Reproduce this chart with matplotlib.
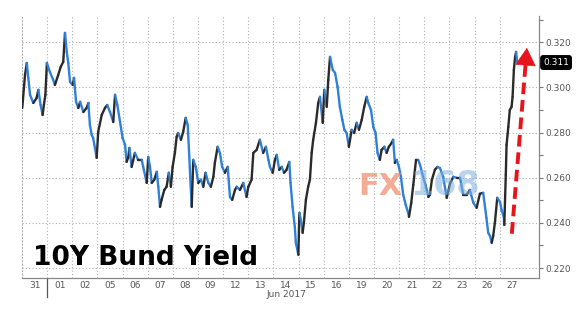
import numpy as np
import matplotlib
matplotlib.use('Agg')
import matplotlib.pyplot as plt
import matplotlib.transforms as mtransforms
from matplotlib.collections import LineCollection
from matplotlib.ticker import MultipleLocator, FormatStrFormatter

# trading days (31 May .. 27 Jun 2017), one unit of x per session
day_labels = ['31', '01', '02', '05', '06', '07', '08', '09', '12', '13',
              '14', '15', '16', '19', '20', '21', '22', '23', '26', '27']

# intraday 10Y Bund yield, time in sessions since 31 May open
t = [0.01, 0.12, 0.19, 0.25, 0.32, 0.45, 0.58, 0.65, 0.74, 0.82, 0.87, 0.93, 0.99,
     1.11, 1.24, 1.31, 1.44, 1.54, 1.64, 1.71, 1.78, 1.84, 1.91,
     2.02, 2.07, 2.15, 2.24, 2.31, 2.44, 2.57, 2.64, 2.70, 2.77, 2.83, 2.90, 2.97,
     3.03, 3.17, 3.30, 3.39, 3.50, 3.63, 3.70, 3.79, 3.90,
     4.00, 4.10, 4.16, 4.23, 4.27, 4.36, 4.49, 4.62, 4.76, 4.82, 4.96,
     5.02, 5.09, 5.16, 5.26, 5.36, 5.42, 5.49, 5.55, 5.66, 5.75, 5.84, 5.92, 5.99,
     6.08, 6.15, 6.21, 6.32, 6.41, 6.51, 6.59, 6.64, 6.69, 6.75, 6.81, 6.91,
     7.01, 7.12, 7.21, 7.30, 7.41, 7.51, 7.61, 7.67, 7.78, 7.87, 7.96,
     8.07, 8.18, 8.27, 8.36, 8.47, 8.54, 8.67, 8.80, 8.93,
     9.00, 9.13, 9.20, 9.33, 9.46, 9.59, 9.70, 9.80, 9.86, 9.97,
     10.06, 10.13, 10.23, 10.33, 10.42, 10.52, 10.63, 10.68, 10.76, 10.85, 10.89, 10.99,
     11.03, 11.09, 11.16, 11.21, 11.29, 11.38, 11.45, 11.52, 11.58, 11.69, 11.78, 11.85, 11.96,
     12.02, 12.12, 12.18, 12.25, 12.36, 12.45, 12.55, 12.64, 12.74, 12.82, 12.91,
     13.00, 13.11, 13.21, 13.31, 13.40, 13.51, 13.61, 13.71, 13.77, 13.88, 13.97,
     14.06, 14.14, 14.23, 14.30, 14.41, 14.50, 14.59, 14.70, 14.76, 14.83, 14.90, 14.99,
     15.07, 15.16, 15.26, 15.36, 15.39, 15.48, 15.56, 15.67, 15.76, 15.83, 15.95,
     16.05, 16.16, 16.22, 16.30, 16.42, 16.52, 16.62, 16.75, 16.89,
     17.02, 17.15, 17.28, 17.42, 17.55, 17.68, 17.81, 17.95,
     18.08, 18.21, 18.34, 18.47, 18.54, 18.61, 18.68, 18.74, 18.81, 18.90,
     19.01, 19.07, 19.16, 19.18, 19.24, 19.27, 19.34, 19.40, 19.47, 19.51, 19.56, 19.61, 19.65, 19.69]

yld = [0.2909, 0.3055, 0.3108, 0.3042, 0.2967, 0.2931, 0.2953, 0.2989, 0.2922, 0.2878, 0.2922, 0.2967, 0.3108,
       0.3068, 0.3033, 0.3011, 0.3055, 0.3091, 0.3113, 0.3241, 0.3157, 0.3108, 0.3024,
       0.3011, 0.3042, 0.2936, 0.2909, 0.2936, 0.2891, 0.2909, 0.2931, 0.2834, 0.2790, 0.2776, 0.2732, 0.2688,
       0.2803, 0.2878, 0.2909, 0.2922, 0.2891, 0.2847, 0.2967, 0.2922, 0.2847,
       0.2776, 0.2745, 0.2670, 0.2692, 0.2732, 0.2648, 0.2710, 0.2679, 0.2679, 0.2648, 0.2577,
       0.2692, 0.2648, 0.2577, 0.2591, 0.2626, 0.2560, 0.2471, 0.2502, 0.2546, 0.2560, 0.2622, 0.2560, 0.2648,
       0.2710, 0.2781, 0.2798, 0.2768, 0.2803, 0.2865, 0.2834, 0.2723, 0.2604, 0.2471, 0.2679, 0.2648,
       0.2577, 0.2591, 0.2560, 0.2622, 0.2577, 0.2560, 0.2604, 0.2666, 0.2737, 0.2710, 0.2648,
       0.2622, 0.2648, 0.2515, 0.2502, 0.2546, 0.2560, 0.2546, 0.2577, 0.2515,
       0.2560, 0.2591, 0.2710, 0.2723, 0.2768, 0.2710, 0.2737, 0.2679, 0.2648, 0.2622,
       0.2679, 0.2701, 0.2635, 0.2648, 0.2622, 0.2635, 0.2670, 0.2577, 0.2471, 0.2382, 0.2312, 0.2259,
       0.2444, 0.2414, 0.2356, 0.2400, 0.2502, 0.2560, 0.2591, 0.2710, 0.2768, 0.2843, 0.2931, 0.2958, 0.2843,
       0.2989, 0.2914, 0.3033, 0.3135, 0.3077, 0.3064, 0.3002, 0.2914, 0.2856, 0.2812, 0.2798,
       0.2737, 0.2812, 0.2798, 0.2843, 0.2812, 0.2856, 0.2914, 0.2958, 0.2931, 0.2900, 0.2825,
       0.2798, 0.2710, 0.2679, 0.2723, 0.2737, 0.2710, 0.2737, 0.2754, 0.2768, 0.2666, 0.2679, 0.2648,
       0.2604, 0.2524, 0.2480, 0.2444, 0.2427, 0.2489, 0.2568, 0.2679, 0.2679, 0.2657, 0.2604,
       0.2568, 0.2515, 0.2524, 0.2591, 0.2635, 0.2648, 0.2643, 0.2604, 0.2511,
       0.2573, 0.2604, 0.2600, 0.2600, 0.2524, 0.2524, 0.2546, 0.2489,
       0.2467, 0.2529, 0.2533, 0.2422, 0.2356, 0.2343, 0.2312, 0.2343, 0.2405, 0.2511,
       0.2493, 0.2458, 0.2427, 0.2391, 0.2613, 0.2745, 0.2825, 0.2900, 0.2914, 0.2958, 0.3077, 0.3135, 0.3157, 0.3113]

last_value = 0.311
arrow_start = (19.48, 0.2352)
arrow_tip = (20.08, 0.3175)

fig = plt.figure(figsize=(5.82, 3.10), dpi=100)
ax = fig.add_axes([0.0378, 0.1032, 0.8883, 0.8452])

# up moves dark, down moves blue (like the terminal's tick colouring)
pts = np.column_stack([t, yld])
segs = np.stack([pts[:-1], pts[1:]], axis=1)
cols = np.where(np.diff(yld) >= 0, '#2a2a2a', '#2f80d8')
ax.add_collection(LineCollection(segs, colors=cols, linewidths=1.7,
                                 capstyle='round', joinstyle='round', zorder=3))

ax.set_xlim(0, 20.56)
ax.set_ylim(0.2156, 0.3316)

# right hand y axis
ax.yaxis.tick_right()
ax.set_yticks(np.arange(0.22, 0.3201, 0.02))
ax.yaxis.set_major_formatter(FormatStrFormatter('%.3f'))
ax.yaxis.set_minor_locator(MultipleLocator(0.01))
ax.tick_params(axis='y', which='both', direction='out', length=3, width=0.8,
               color='#777777', labelsize=6.5, labelcolor='#555555', pad=1.5)

# day labels centred in each session, grid on session boundaries
ax.set_xticks(np.arange(len(day_labels)) + 0.5)
ax.set_xticklabels(day_labels)
ax.set_xticks(np.arange(1, len(day_labels)), minor=True)
ax.tick_params(axis='x', which='both', length=0, labelsize=6.5,
               labelcolor='#555555', pad=2.5)

ax.grid(which='major', axis='y', ls=(0, (1, 2)), color='#b0b0b0', lw=0.8)
ax.grid(which='minor', axis='x', ls=(0, (1, 2)), color='#b0b0b0', lw=0.8)

ax.spines['top'].set_visible(False)
ax.spines['left'].set_linestyle((0, (1, 2)))
ax.spines['left'].set_color('#b0b0b0')
for s in ('right', 'bottom'):
    ax.spines[s].set_color('#888888')
    ax.spines[s].set_linewidth(0.9)

xtrans = ax.get_xaxis_transform()
ytrans = mtransforms.blended_transform_factory(ax.transAxes, ax.transData)

# month separator and month label
ax.plot([1, 1], [0, -0.073], transform=xtrans, clip_on=False, color='#555555', lw=0.9)
ax.text(10.5, -0.062, 'Jun 2017', transform=xtrans, ha='center', va='center',
        fontsize=6.5, color='#555555')

# last value box
ax.text(1.008, last_value, f'{last_value:.3f}', transform=ytrans, ha='left', va='center',
        fontsize=6.5, color='white',
        bbox=dict(boxstyle='round,pad=0.25', fc='black', ec='black'))

# watermark
ax.text(13.36, 0.2524, 'FX', fontsize=22, fontweight='bold', color='#f29070',
        alpha=0.75, zorder=4)
ax.text(15.45, 0.2524, '168', fontsize=24, fontweight='bold', color='#7fb0e0',
        alpha=0.55, zorder=4)

# title
ax.text(0.021, 0.05, '10Y Bund Yield', transform=ax.transAxes, fontsize=19,
        fontweight='bold', color='black', zorder=5)

# red dashed arrow
frac = 0.91
base = (arrow_start[0] + frac * (arrow_tip[0] - arrow_start[0]),
        arrow_start[1] + frac * (arrow_tip[1] - arrow_start[1]))
ax.plot([arrow_start[0], base[0]], [arrow_start[1], base[1]], color='#e8141c',
        lw=2.8, dashes=(3, 1.5), solid_capstyle='butt', clip_on=False, zorder=6)
ax.annotate('', xy=arrow_tip, xytext=base, annotation_clip=False,
            arrowprops=dict(arrowstyle='-|>,head_length=0.6,head_width=0.35',
                            mutation_scale=20, color='#e8141c', lw=0.5,
                            shrinkA=0, shrinkB=0), zorder=6)

fig.savefig('out.png', dpi=100, facecolor='white')
